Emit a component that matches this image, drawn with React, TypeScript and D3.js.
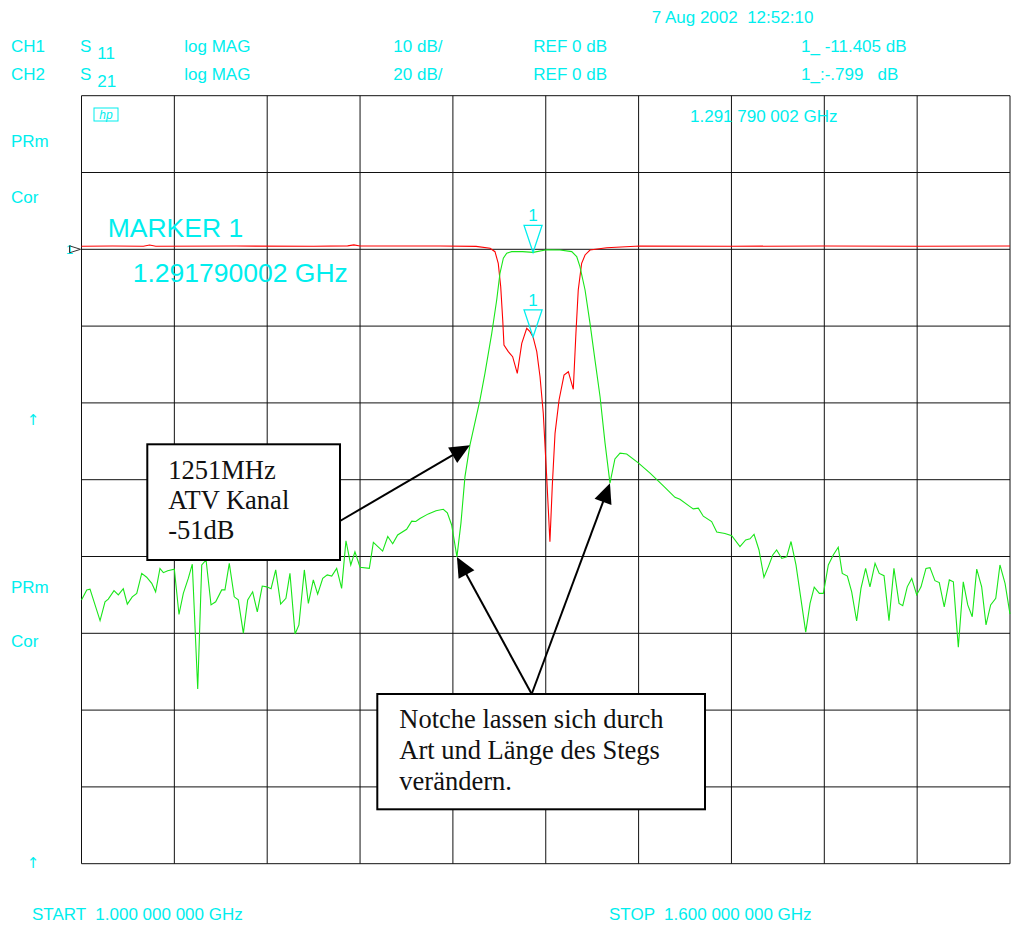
import React from 'react';
import * as d3 from 'd3';

// ---- sweep / scale settings ----
const START_MHZ = 1000;
const STOP_MHZ = 1600;
const CH1_DB_PER_DIV = 10; // S11
const CH2_DB_PER_DIV = 20; // S21
const REF_DB = 0;
const REF_DIV_FROM_TOP = 2;
const DIVS_X = 10;
const DIVS_Y = 10;

// ---- marker ----
const MARKER_MHZ = 1291.790002;
const MARKER_S11_DB = -11.405;
const MARKER_S21_DB = -0.799;

// ---- S21 (CH2, green) trace: [MHz, dB] ----
const s21Trace: [number, number][] = [
  [1000, -91.3], [1003.4, -88.7], [1005.5, -88.5], [1012.0, -96.7], [1015.2, -91.8], [1017.3, -91.1], [1021.0, -88.9], [1023.8, -90.0], [1027.0, -88.4], [1029.6, -92.4],
  [1032.8, -90.5], [1035.7, -89.6], [1038.9, -84.4], [1042.1, -85.4], [1045.4, -87.0], [1047.9, -89.2], [1050.7, -83.1], [1052.9, -84.2], [1055.7, -83.7], [1060.0, -83.3],
  [1063.0, -95.1], [1065.8, -89.6], [1069.0, -85.7], [1071.6, -82.0], [1075.1, -114.5], [1077.7, -82.2], [1080.5, -80.9], [1083.7, -92.6], [1086.7, -91.8], [1090.6, -88.7],
  [1092.7, -88.7], [1095.5, -81.8], [1098.7, -90.5], [1101.3, -91.3], [1104.6, -100.0], [1107.4, -91.3], [1110.6, -89.2], [1113.6, -94.4], [1116.8, -87.7], [1119.7, -87.9],
  [1122.5, -88.4], [1125.5, -83.5], [1128.7, -92.4], [1132.1, -90.9], [1134.7, -84.4], [1138.0, -100.2], [1140.5, -97.8], [1144.0, -83.5], [1146.6, -92.2], [1149.8, -86.1],
  [1152.6, -89.8], [1155.9, -85.7], [1158.8, -84.8], [1161.7, -85.1], [1164.9, -83.1], [1168.1, -88.3], [1170.9, -75.9], [1174.0, -82.2], [1176.7, -78.8], [1180.0, -82.8],
  [1186.0, -83.1], [1188.6, -76.3], [1194.6, -78.6], [1197.9, -74.8], [1201.1, -76.7], [1204.3, -74.4], [1210.1, -72.9], [1213.4, -70.8], [1216.0, -70.9], [1218.7, -70.1],
  [1224.1, -68.9], [1229.1, -68.1], [1233.8, -67.7], [1236.4, -68.6], [1239.2, -71.8], [1242.6, -80.1], [1245.2, -71.3], [1247.8, -59.2], [1251.0, -51.0], [1257.5, -39.2],
  [1260.7, -32.3], [1265.1, -21.9], [1268.3, -13.2], [1270.4, -6.3], [1272.6, -2.3], [1274.8, -1.0], [1278.0, -0.6], [1285.0, -0.6], [1291.8, -0.8], [1300.6, -0.1],
  [1309.2, -0.2], [1316.8, -0.6], [1320.0, -1.9], [1322.1, -4.5], [1325.4, -10.6], [1328.6, -19.3], [1331.8, -28.8], [1335.1, -38.4], [1338.3, -50.4], [1341.5, -60.9],
  [1344.7, -54.6], [1348.0, -53.1], [1352.3, -53.3], [1359.8, -55.6], [1367.4, -58.3], [1376.0, -61.6], [1383.5, -64.6], [1386.7, -65.1], [1393.2, -67.0], [1395.3, -67.6],
  [1398.6, -67.4], [1401.8, -69.5], [1407.2, -70.9], [1410.5, -73.6], [1415.8, -74.0], [1420.2, -74.6], [1425.5, -77.4], [1429.2, -75.7], [1432.0, -75.4], [1434.6, -74.2],
  [1437.8, -78.3], [1441.0, -85.4], [1443.8, -82.7], [1446.7, -79.6], [1449.2, -78.3], [1452.5, -80.5], [1455.7, -80.1], [1458.5, -76.1], [1461.7, -82.2], [1464.7, -90.5],
  [1468.0, -99.7], [1470.8, -92.2], [1473.5, -88.0], [1476.8, -89.6], [1479.4, -89.6], [1482.6, -82.2], [1485.8, -79.6], [1489.0, -77.6], [1491.6, -84.4], [1494.9, -85.1],
  [1497.7, -89.2], [1500.9, -96.8], [1503.7, -88.3], [1506.7, -83.1], [1509.5, -87.9], [1512.8, -81.8], [1515.5, -84.4], [1518.6, -85.0], [1521.8, -96.7], [1525.0, -83.1],
  [1528.3, -92.2], [1530.7, -92.8], [1533.6, -87.9], [1536.5, -85.7], [1539.7, -90.0], [1542.5, -87.9], [1545.7, -83.1], [1548.3, -82.9], [1551.5, -86.3], [1554.3, -86.8],
  [1557.5, -93.1], [1560.8, -86.1], [1563.4, -86.6], [1566.6, -103.6], [1569.8, -86.6], [1572.7, -92.6], [1575.6, -95.7], [1578.5, -83.3], [1581.7, -87.9], [1584.5, -97.8],
  [1587.5, -92.6], [1590.8, -90.9], [1593.5, -82.2], [1596.8, -87.0], [1600.0, -95.0],
];

// ---- S11 (CH1, red) trace: [MHz, dB] ----
const s11Trace: [number, number][] = [
  [1000, 0.40], [1020, 0.42], [1040, 0.40], [1044, 0.55], [1048, 0.40], [1100, 0.42], [1150, 0.40], [1172, 0.45], [1176, 0.58], [1180, 0.42],
  [1231.7, 0.43], [1255, 0.38], [1264.0, 0.13], [1267.2, -0.31], [1269.3, -1.82], [1270.9, -4.87], [1272.2, -9.21], [1273.0, -12.46], [1275.8, -13.33], [1278.6, -13.98],
  [1281.6, -16.15], [1284.5, -12.24], [1287.7, -10.29], [1289.8, -10.73], [1291.8, -11.41], [1294.2, -13.33], [1296.3, -16.59], [1298.4, -21.35], [1300.6, -29.61], [1302.7, -38.07],
  [1304.2, -30.91], [1306.0, -23.96], [1308.6, -19.62], [1311.8, -16.37], [1314.6, -15.94], [1317.8, -18.23], [1319.5, -10.94], [1321.0, -5.30], [1323.2, -1.82], [1325.4, -0.74],
  [1328.6, -0.09], [1339.4, 0.21], [1360.9, 0.43], [1420, 0.40], [1480, 0.42], [1540, 0.40], [1600, 0.42],
];

// ---- header / status texts ----
const dateText = '7 Aug 2002  12:52:10';
const chNames = ['CH1', 'CH2'];
const chParams = ['11', '21'];
const chFormats = ['log MAG', 'log MAG'];
const chScales = ['10 dB/', '20 dB/'];
const chRefs = ['REF 0 dB', 'REF 0 dB'];
const chMarkerReadouts = ['1_ -11.405 dB', '1_:-.799   dB'];
const markerFreqText = '1.291 790 002 GHz';
const markerTitle = 'MARKER 1';
const markerBigFreq = '1.291790002 GHz';
const startText = 'START  1.000 000 000 GHz';
const stopText = 'STOP  1.600 000 000 GHz';
const sideLabels = ['PRm', 'Cor', 'PRm', 'Cor'];
const note1Lines = ['1251MHz', 'ATV Kanal', '-51dB'];
const note1Target: [number, number] = [1251, -51];
const note2Lines = ['Notche lassen sich durch', 'Art und Länge des Stegs', 'verändern.'];
const note2Targets: [number, number][] = [[1242.6, -80.1], [1341.5, -60.9]];

const CYAN = '#00eeee';
const SANS = '"Liberation Sans", Arial, Helvetica, sans-serif';
const SERIF = '"Liberation Serif", "Times New Roman", serif';

function arrow(x1: number, y1: number, x2: number, y2: number, key: string) {
  const dx = x2 - x1, dy = y2 - y1;
  const len = Math.hypot(dx, dy);
  const ux = dx / len, uy = dy / len;
  const L = 20, w = 9;
  const bx = x2 - ux * L, by = y2 - uy * L;
  const px = -uy, py = ux;
  const pts = `${x2},${y2} ${bx + px * w},${by + py * w} ${bx - px * w},${by - py * w}`;
  return (
    <g key={key}>
      <line x1={x1} y1={y1} x2={bx + ux * 2} y2={by + uy * 2} stroke="#000" strokeWidth={2} />
      <polygon points={pts} fill="#000" />
    </g>
  );
}

export default function App() {
  const left = 81.5, right = 1010, top = 95.7, bottom = 863.7;
  const x = d3.scaleLinear().domain([START_MHZ, STOP_MHZ]).range([left, right]);
  const yS21 = d3.scaleLinear()
    .domain([REF_DB + REF_DIV_FROM_TOP * CH2_DB_PER_DIV, REF_DB - (DIVS_Y - REF_DIV_FROM_TOP) * CH2_DB_PER_DIV])
    .range([top, bottom]);
  const yS11 = d3.scaleLinear()
    .domain([REF_DB + REF_DIV_FROM_TOP * CH1_DB_PER_DIV, REF_DB - (DIVS_Y - REF_DIV_FROM_TOP) * CH1_DB_PER_DIV])
    .range([top, bottom]);

  const xLines = d3.range(DIVS_X + 1).map(i => x(START_MHZ + (i * (STOP_MHZ - START_MHZ)) / DIVS_X));
  const yLines = d3.range(DIVS_Y + 1).map(i => top + (i * (bottom - top)) / DIVS_Y);

  const lineS21 = d3.line<[number, number]>().x(d => x(d[0])).y(d => yS21(d[1]));
  const lineS11 = d3.line<[number, number]>().x(d => x(d[0])).y(d => yS11(d[1]));

  const mx = x(MARKER_MHZ);
  const m21y = yS21(MARKER_S21_DB);
  const m11y = yS11(MARKER_S11_DB);
  const refY = yS21(REF_DB);

  const tri = (tx: number, ty: number) =>
    `${tx},${ty} ${tx - 9},${ty - 27} ${tx + 9},${ty - 27}`;

  const n1 = { x: 147.3, y: 444.3, w: 192.7, h: 115.7 };
  const n2 = { x: 377.3, y: 694, w: 327.7, h: 115.3 };
  const n2Start: [number, number] = [531.7, 694];

  return (
    <svg width={1012} height={926} style={{ position: 'absolute', left: 0, top: 0, background: '#fff' }}>
      {/* header */}
      <g fontFamily={SANS} fontSize={17} fill={CYAN}>
        <text x={651.7} y={22.7} style={{ whiteSpace: 'pre' }}>{dateText}</text>
        {chNames.map((c, i) => {
          const by = 52 + i * 28.3;
          return (
            <g key={c}>
              <text x={11} y={by}>{c}</text>
              <text x={80} y={by}>S</text>
              <text x={97.3} y={by + 6.6}>{chParams[i]}</text>
              <text x={184.3} y={by}>{chFormats[i]}</text>
              <text x={393.3} y={by}>{chScales[i]}</text>
              <text x={533.3} y={by}>{chRefs[i]}</text>
              <text x={801} y={by} style={{ whiteSpace: 'pre' }}>{chMarkerReadouts[i]}</text>
            </g>
          );
        })}
        <text x={11} y={146.5}>{sideLabels[0]}</text>
        <text x={11} y={203}>{sideLabels[1]}</text>
        <text x={11} y={592.5}>{sideLabels[2]}</text>
        <text x={11} y={647}>{sideLabels[3]}</text>
        <text x={33} y={425} fontSize={15} textAnchor="middle" fontFamily="DejaVu Sans">↑</text>
        <text x={33} y={868} fontSize={15} textAnchor="middle" fontFamily="DejaVu Sans">↑</text>
        <text x={32} y={920} style={{ whiteSpace: 'pre' }}>{startText}</text>
        <text x={609} y={920} style={{ whiteSpace: 'pre' }}>{stopText}</text>
      </g>

      {/* grid */}
      <g stroke="#111" strokeWidth={1}>
        {xLines.map((lx, i) => (
          <line key={'vx' + i} x1={lx} x2={lx} y1={top} y2={bottom} />
        ))}
        {yLines.map((ly, i) => (
          <line key={'hy' + i} x1={left} x2={right} y1={ly} y2={ly} />
        ))}
      </g>

      {/* hp logo */}
      <g stroke={CYAN} fill="none" strokeWidth={1}>
        <rect x={94} y={108} width={24} height={13} />
      </g>
      <text x={106} y={119} fontSize={12} fontStyle="italic" fill={CYAN} textAnchor="middle" fontFamily={SANS}>hp</text>
      <text x={92} y={121} fontSize={11} fill={CYAN} fontFamily={SANS}>{''}</text>

      {/* marker text */}
      <g fontFamily={SANS} fill={CYAN}>
        <text x={690} y={122} fontSize={17} style={{ whiteSpace: 'pre' }}>{markerFreqText}</text>
        <text x={107.7} y={236.7} fontSize={26.5}>{markerTitle}</text>
        <text x={132.7} y={281.7} fontSize={26.5}>{markerBigFreq}</text>
      </g>

      {/* reference pointer */}
      <text x={66} y={254} fontSize={13} fill={CYAN} fontFamily={SANS}>1</text>
      <polygon points={`${left - 1},${refY} ${left - 12},${refY - 3.5} ${left - 12},${refY + 3.5}`} fill="none" stroke="#333" strokeWidth={1} />

      {/* traces */}
      <path d={lineS11(s11Trace) || ''} fill="none" stroke="#ff0000" strokeWidth={1.1} />
      <path d={lineS21(s21Trace) || ''} fill="none" stroke="#19e619" strokeWidth={1.1} />

      {/* markers */}
      <g fill="none" stroke={CYAN} strokeWidth={1.3}>
        <polygon points={tri(mx, m21y)} />
        <polygon points={tri(mx, m11y)} />
      </g>
      <g fontFamily={SANS} fontSize={17} fill={CYAN} textAnchor="middle">
        <text x={mx} y={m21y - 31}>1</text>
        <text x={mx} y={m11y - 31}>1</text>
      </g>

      {/* annotations */}
      <rect x={n1.x} y={n1.y} width={n1.w} height={n1.h} fill="#fff" stroke="#000" strokeWidth={2} />
      <g fontFamily={SERIF} fontSize={26.5} fill="#111">
        {note1Lines.map((t, i) => (
          <text key={t} x={168.3} y={479.3 + i * 30}>{t}</text>
        ))}
      </g>
      {arrow(n1.x + n1.w, 521, x(note1Target[0]), yS21(note1Target[1]), 'a1')}

      <rect x={n2.x} y={n2.y} width={n2.w} height={n2.h} fill="#fff" stroke="#000" strokeWidth={2} />
      <g fontFamily={SERIF} fontSize={26.5} fill="#111">
        {note2Lines.map((t, i) => (
          <text key={t} x={399.3} y={728.3 + i * 30.8}>{t}</text>
        ))}
      </g>
      {note2Targets.map((tg, i) => arrow(n2Start[0], n2Start[1], x(tg[0]), yS21(tg[1]), 'a2' + i))}
    </svg>
  );
}
